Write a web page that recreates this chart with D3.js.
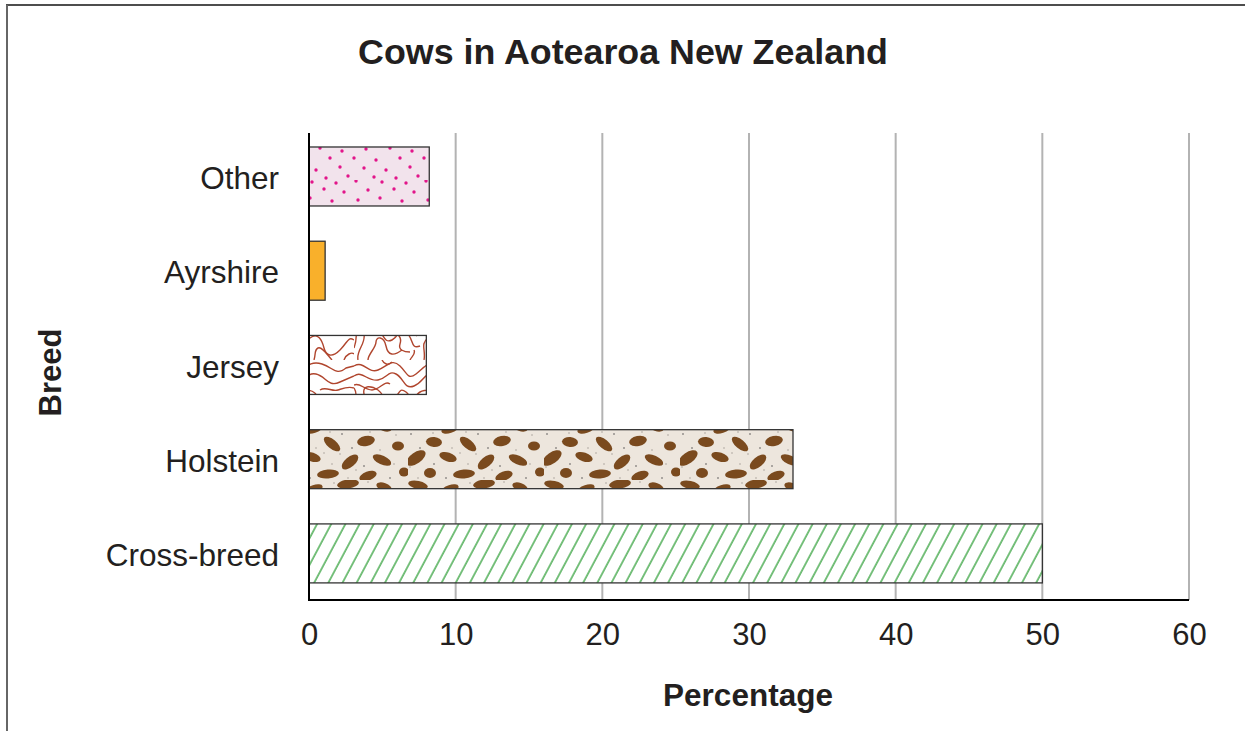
<!DOCTYPE html>
<html>
<head>
<meta charset="utf-8">
<script src="https://cdn.jsdelivr.net/npm/d3@7"></script>
<style>
  html, body { margin: 0; padding: 0; background: #fff; }
  svg { display: block; font-family: "Liberation Sans", Arial, sans-serif; }
</style>
</head>
<body>
<svg id="chart" width="1245" height="731"></svg>
<script>
// Share of dairy cows by breed (%)
const breeds = ["Cross-breed", "Holstein", "Jersey", "Ayrshire", "Other"];
const percentages = [50, 33, 8, 1.1, 8.2];
const xTicks = [0, 10, 20, 30, 40, 50, 60];
const fills = ["url(#hatch)", "url(#spots)", "url(#swirls)", "#f9b02b", "url(#dots)"];

const svg = d3.select("#chart");
const W = 1245, H = 731;
const plot = { left: 309, right: 1189, top: 133, bottom: 600 };
const ink = "#231f20";
const font = "Liberation Sans, Arial, sans-serif";

const x = d3.scaleLinear().domain([0, 60]).range([plot.left, plot.right]);
const y = d3.scaleBand()
  .domain(breeds.slice().reverse())
  .range([plot.top, plot.bottom])
  .paddingInner(0.374)
  .paddingOuter(0.165)
  .align(0.45);

// ---- fill patterns ----
const defs = svg.append("defs");

// green diagonal hatching
const hatch = defs.append("pattern")
  .attr("id", "hatch").attr("patternUnits", "userSpaceOnUse")
  .attr("width", 12.5).attr("height", 40)
  .attr("patternTransform", "rotate(28)");
hatch.append("rect").attr("width", 12.5).attr("height", 40).attr("fill", "#fff");
hatch.append("line").attr("x1", 1).attr("y1", 0).attr("x2", 1).attr("y2", 40)
  .attr("stroke", "#38a340").attr("stroke-width", 1.35);

// beige with brown blotches and fine specks
const spots = defs.append("pattern")
  .attr("id", "spots").attr("patternUnits", "userSpaceOnUse")
  .attr("width", 136).attr("height", 60);
spots.append("rect").attr("width", 136).attr("height", 60).attr("fill", "#ede6dd");
const blotches = [
  [10, 5, 10, 4, 12], [42, 9, 9, 4, -18], [76, 4, 11, 4.5, -8], [112, 7, 8, 4, 20],
  [26, 22, 8, 5, 5], [60, 24, 10, 4.5, 40], [94, 21, 9, 5, -12], [126, 26, 6, 4.5, 0],
  [8, 38, 11, 5.5, -35], [40, 37, 9, 4.5, 18], [78, 42, 10, 5, -40], [110, 40, 10, 4.5, 25],
  [22, 53, 6, 5, 0], [56, 54, 11, 4.5, -5], [96, 56, 9, 4.5, -20], [132, 52, 5, 4.5, 0]
];
blotches.forEach(([cx, cy, rx, ry, a]) => {
  spots.append("ellipse").attr("cx", cx).attr("cy", cy).attr("rx", rx).attr("ry", ry)
    .attr("transform", `rotate(${a} ${cx} ${cy})`).attr("fill", "#7a4a1e");
});
const specks = [
  [3, 14], [25, 13], [58, 12], [70, 14], [98, 12], [124, 15], [12, 28], [44, 28],
  [52, 33], [80, 28], [108, 30], [2, 47], [26, 44], [60, 44], [68, 34], [92, 46],
  [122, 44], [10, 58], [38, 58], [76, 58], [84, 50], [118, 58], [62, 3], [96, 2]
];
specks.forEach(([cx, cy], i) => {
  spots.append("circle").attr("cx", cx).attr("cy", cy).attr("r", 0.7)
    .attr("fill", i % 3 === 0 ? "#333" : "#9a948c");
});

// contour-like red-brown swirls
const swirls = defs.append("pattern")
  .attr("id", "swirls").attr("patternUnits", "userSpaceOnUse")
  .attr("width", 118).attr("height", 60);
swirls.append("rect").attr("width", 118).attr("height", 60).attr("fill", "#fff");
const swirlPaths = [
  "M0,6 C10,0 14,14 24,10 S38,-2 46,6 S54,20 62,14 S74,0 86,4 S100,16 110,8 L118,6",
  "M0,16 C8,10 14,22 24,20 S34,10 42,14 S50,30 60,26 S70,12 80,14 S92,28 104,22 L118,16",
  "M0,25 C6,22 10,30 18,30 S30,20 36,24",
  "M4,60 C2,50 12,44 10,34 S18,26 24,30 S30,44 38,40 S44,26 52,32 S56,50 66,46",
  "M14,60 C14,54 22,48 22,42 S30,36 32,46 S40,56 48,50",
  "M40,36 C44,32 48,38 46,44 S50,52 56,52",
  "M70,60 C72,50 66,44 74,38 S86,40 88,48 S96,58 104,50 S112,36 118,40",
  "M78,60 C80,54 78,50 82,48 S92,56 96,60",
  "M0,28 C4,34 2,42 0,48",
  "M84,30 C90,26 96,32 102,30 S112,26 118,28",
  "M62,36 C66,30 74,28 80,34",
  "M28,0 C30,4 34,6 38,2",
  "M108,60 C110,54 116,52 118,54",
  "M56,60 C58,56 62,54 60,50"
];
swirlPaths.forEach(d => {
  swirls.append("path").attr("d", d).attr("fill", "none")
    .attr("stroke", "#b0452d").attr("stroke-width", 1.4);
});

// pink ground with magenta dots
const dots = defs.append("pattern")
  .attr("id", "dots").attr("patternUnits", "userSpaceOnUse")
  .attr("width", 70).attr("height", 60);
dots.append("rect").attr("width", 70).attr("height", 60).attr("fill", "#f2e3ec");
const dotPts = [
  [6, 1], [32, 2], [56, 3], [18, 10], [44, 9], [64, 12], [8, 20], [30, 18],
  [52, 21], [16, 29], [40, 28], [62, 31], [4, 38], [26, 40], [50, 38], [14, 48],
  [36, 50], [60, 47], [24, 57], [46, 58], [68, 56]
];
dotPts.forEach(([cx, cy]) => {
  dots.append("circle").attr("cx", cx).attr("cy", cy).attr("r", 1.7).attr("fill", "#e2158a");
});

// ---- frame ----
svg.append("line").attr("x1", 6).attr("y1", 5).attr("x2", W).attr("y2", 5)
  .attr("stroke", "#4d4d4d").attr("stroke-width", 2);
svg.append("line").attr("x1", 7).attr("y1", 5).attr("x2", 7).attr("y2", H)
  .attr("stroke", "#666").attr("stroke-width", 2);

// ---- grid ----
svg.append("g").selectAll("line").data(xTicks.filter(t => t > 0)).join("line")
  .attr("x1", d => x(d)).attr("x2", d => x(d))
  .attr("y1", plot.top).attr("y2", plot.bottom)
  .attr("stroke", "#b3b3b3").attr("stroke-width", 2);

// ---- bars ----
svg.append("g").selectAll("rect").data(breeds).join("rect")
  .attr("x", x(0))
  .attr("y", d => y(d))
  .attr("width", (d, i) => x(percentages[i]) - x(0))
  .attr("height", y.bandwidth())
  .attr("fill", (d, i) => fills[i])
  .attr("stroke", "#333")
  .attr("stroke-width", 1.3);

// ---- axes ----
const xAxis = d3.axisBottom(x).tickValues(xTicks).tickSize(0).tickPadding(23);
const gx = svg.append("g").attr("transform", `translate(0,${plot.bottom})`).call(xAxis);
gx.select(".domain").attr("stroke", "#000").attr("stroke-width", 2)
  .attr("d", `M${plot.left - 1},0H${plot.right}`);
gx.selectAll("text").attr("font-size", 31).attr("fill", ink).attr("font-family", font);

const yAxis = d3.axisLeft(y).tickSize(0).tickPadding(30);
const gy = svg.append("g").attr("transform", `translate(${plot.left},0)`).call(yAxis);
gy.select(".domain").attr("stroke", "#000").attr("stroke-width", 2)
  .attr("d", `M0,${plot.top}V${plot.bottom + 1}`);
gy.selectAll("text").attr("font-size", 31.5).attr("fill", ink).attr("font-family", font)
  .attr("dy", "0.4em");

// ---- titles ----
svg.append("text").attr("x", 623).attr("y", 64).attr("text-anchor", "middle")
  .attr("font-size", 35.8).attr("font-weight", "bold").attr("fill", ink)
  .text("Cows in Aotearoa New Zealand");

svg.append("text").attr("x", (plot.left + plot.right) / 2 - 1).attr("y", 706)
  .attr("text-anchor", "middle").attr("font-size", 31.5).attr("font-weight", "bold")
  .attr("fill", ink).text("Percentage");

svg.append("text")
  .attr("transform", `translate(61,${(plot.top + plot.bottom) / 2 + 6}) rotate(-90)`)
  .attr("text-anchor", "middle").attr("font-size", 31).attr("font-weight", "bold")
  .attr("fill", ink).text("Breed");
</script>
</body>
</html>
